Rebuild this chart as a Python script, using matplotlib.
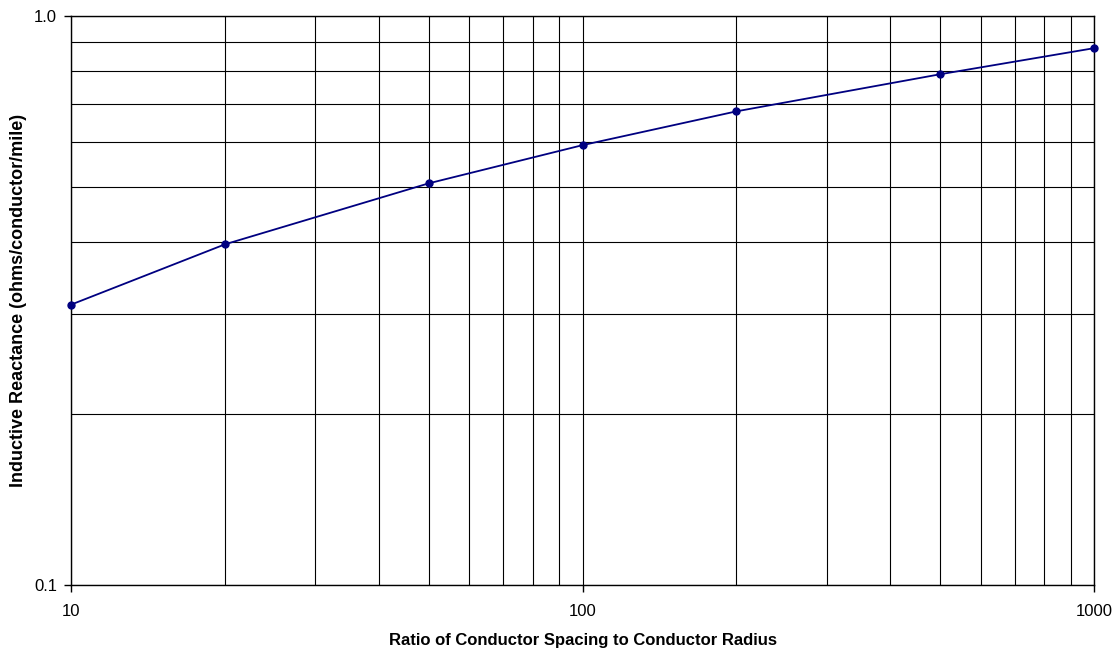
import matplotlib
matplotlib.use("Agg")
import matplotlib.pyplot as plt
from matplotlib.ticker import FixedLocator, NullFormatter, LogLocator

plt.rcParams['font.family'] = ['Liberation Sans', 'DejaVu Sans']

ratio = [10, 20, 50, 100, 200, 500, 1000]
reactance = [0.311, 0.397, 0.508, 0.593, 0.680, 0.790, 0.878]
x_ticks = [10, 100, 1000]
x_tick_labels = ["10", "100", "1000"]
y_ticks = [0.1, 1.0]
y_tick_labels = ["0.1", "1.0"]

fig = plt.figure(figsize=(11.17, 6.49), dpi=100)
ax = fig.add_axes([0.0636, 0.0986, 0.9794 - 0.0636, 0.9753 - 0.0986])
ax.set_xscale('log')
ax.set_yscale('log')
ax.set_xlim(10, 1000)
ax.set_ylim(0.1, 1.0)

ax.xaxis.set_major_locator(FixedLocator(x_ticks))
ax.set_xticklabels(x_tick_labels)
ax.yaxis.set_major_locator(FixedLocator(y_ticks))
ax.set_yticklabels(y_tick_labels)
ax.xaxis.set_minor_locator(LogLocator(base=10, subs=range(2, 10)))
ax.yaxis.set_minor_locator(LogLocator(base=10, subs=range(2, 10)))
ax.xaxis.set_minor_formatter(NullFormatter())
ax.yaxis.set_minor_formatter(NullFormatter())

ax.grid(True, which='both', color='black', linewidth=0.8)
ax.tick_params(which='minor', length=0)
ax.tick_params(which='major', length=5, width=1, direction='out', labelsize=12, colors='black')
ax.tick_params(axis='x', which='major', pad=9)
ax.tick_params(axis='y', which='major', pad=5)
for s in ax.spines.values():
    s.set_color('black')
    s.set_linewidth(1)

ax.plot(ratio, reactance, color='#000080', linewidth=1.3, marker='o', markersize=5, zorder=5, clip_on=False)

ax.set_xlabel("Ratio of Conductor Spacing to Conductor Radius", fontsize=12, fontweight='bold', labelpad=10)
ax.set_ylabel("Inductive Reactance (ohms/conductor/mile)", fontsize=13, fontweight='bold', labelpad=5)

fig.savefig("out.png", dpi=100)
